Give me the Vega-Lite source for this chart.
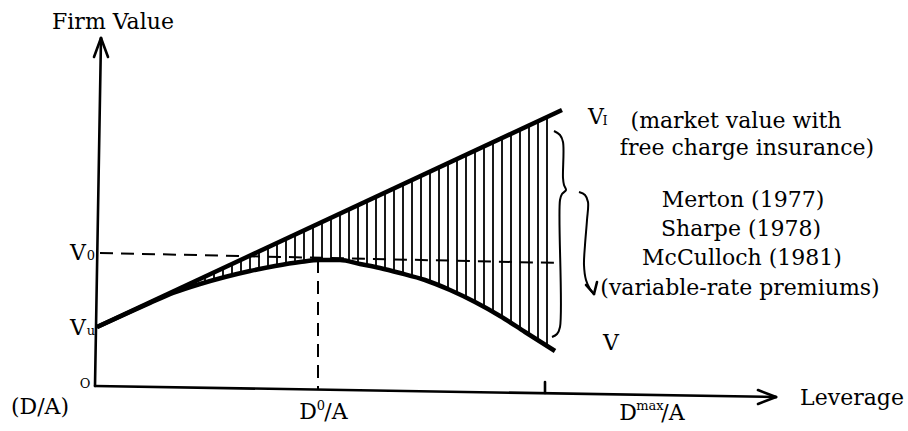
{
  "$schema": "https://vega.github.io/schema/vega-lite/v6.json",
  "width": 680,
  "height": 345,
  "autosize": {"type": "none"},
  "padding": {"left": 95, "top": 40, "right": 133, "bottom": 46},
  "background": "white",
  "config": {"view": {"stroke": null}},
  "datasets": {
    "hatch": [
      {"x": 83, "top": 95.8, "bottom": 94}, {"x": 92, "top": 100.0, "bottom": 97},
      {"x": 101, "top": 104.2, "bottom": 100}, {"x": 110, "top": 108.4, "bottom": 103},
      {"x": 119, "top": 112.6, "bottom": 105.5}, {"x": 128, "top": 116.8, "bottom": 107.5},
      {"x": 137, "top": 121.0, "bottom": 110}, {"x": 146, "top": 125.2, "bottom": 112},
      {"x": 155, "top": 129.4, "bottom": 114}, {"x": 164, "top": 133.6, "bottom": 116},
      {"x": 173, "top": 137.8, "bottom": 118}, {"x": 182, "top": 142.0, "bottom": 119},
      {"x": 191, "top": 146.2, "bottom": 121}, {"x": 200, "top": 150.4, "bottom": 122.5},
      {"x": 209, "top": 154.6, "bottom": 123.5}, {"x": 218, "top": 158.8, "bottom": 124.5},
      {"x": 227, "top": 163.0, "bottom": 125}, {"x": 236, "top": 167.2, "bottom": 125},
      {"x": 245, "top": 171.4, "bottom": 125}, {"x": 254, "top": 175.6, "bottom": 123},
      {"x": 263, "top": 179.8, "bottom": 121.5}, {"x": 272, "top": 184.0, "bottom": 120},
      {"x": 281, "top": 188.2, "bottom": 118}, {"x": 290, "top": 192.4, "bottom": 116},
      {"x": 299, "top": 196.6, "bottom": 113.5}, {"x": 308, "top": 200.8, "bottom": 111},
      {"x": 317, "top": 205.0, "bottom": 109}, {"x": 326, "top": 209.2, "bottom": 106},
      {"x": 335, "top": 213.4, "bottom": 103}, {"x": 344, "top": 217.6, "bottom": 99.5},
      {"x": 353, "top": 221.8, "bottom": 96}, {"x": 362, "top": 226.0, "bottom": 91.5},
      {"x": 371, "top": 230.2, "bottom": 87}, {"x": 380, "top": 234.4, "bottom": 83},
      {"x": 389, "top": 238.6, "bottom": 78}, {"x": 398, "top": 242.8, "bottom": 73},
      {"x": 407, "top": 247.0, "bottom": 68}, {"x": 416, "top": 251.2, "bottom": 62},
      {"x": 425, "top": 255.4, "bottom": 56.5}, {"x": 434, "top": 259.6, "bottom": 51},
      {"x": 443, "top": 263.8, "bottom": 45}, {"x": 452, "top": 268.0, "bottom": 39}
    ],
    "segments": [
      {"x": 0, "y": -1, "x2": 681, "y2": -12},
      {"x": 0, "y": -1, "x2": 6, "y2": 347},
      {"x": 6, "y": 347, "x2": -1, "y2": 328},
      {"x": 6, "y": 347, "x2": 13, "y2": 328},
      {"x": 681, "y": -12, "x2": 663, "y2": -5},
      {"x": 681, "y": -12, "x2": 663, "y2": -19},
      {"x": 450, "y": -8, "x2": 450, "y2": 3},
      {"x": 499, "y": 91, "x2": 491, "y2": 100},
      {"x": 499, "y": 91, "x2": 502, "y2": 103}
    ],
    "dashed": [
      {"x": 5, "y": 132, "x2": 465, "y2": 122},
      {"x": 223, "y": 125, "x2": 223, "y2": -4}
    ],
    "vi": [
      {"x": 2, "y": 58}, {"x": 467, "y": 275}
    ],
    "v": [
      {"x": 2, "y": 58}, {"x": 35, "y": 73}, {"x": 55, "y": 82}, {"x": 78, "y": 92},
      {"x": 105, "y": 101}, {"x": 130, "y": 108}, {"x": 155, "y": 114}, {"x": 180, "y": 119},
      {"x": 205, "y": 123}, {"x": 225, "y": 125}, {"x": 245, "y": 125}, {"x": 265, "y": 121},
      {"x": 285, "y": 117}, {"x": 305, "y": 112}, {"x": 330, "y": 105}, {"x": 355, "y": 95},
      {"x": 380, "y": 83}, {"x": 405, "y": 69}, {"x": 430, "y": 53}, {"x": 460, "y": 34}
    ],
    "brace": [
      {"i": 1, "x": 459, "y": 254}, {"i": 2, "x": 465, "y": 250}, {"i": 3, "x": 468, "y": 243},
      {"i": 4, "x": 468, "y": 207}, {"i": 5, "x": 469, "y": 200}, {"i": 6, "x": 471, "y": 195},
      {"i": 7, "x": 467, "y": 191}, {"i": 8, "x": 465, "y": 185}, {"i": 9, "x": 465, "y": 58},
      {"i": 10, "x": 462, "y": 51}, {"i": 11, "x": 457, "y": 48}
    ],
    "arrow": [
      {"i": 1, "x": 484, "y": 193}, {"i": 2, "x": 490, "y": 190}, {"i": 3, "x": 493, "y": 183},
      {"i": 4, "x": 492, "y": 165}, {"i": 5, "x": 490, "y": 140}, {"i": 6, "x": 489, "y": 120},
      {"i": 7, "x": 491, "y": 105}, {"i": 8, "x": 495, "y": 96}, {"i": 9, "x": 499, "y": 91}
    ],
    "mainText": [
      {"x": 18, "y": 363, "label": "Firm Value"},
      {"x": -55, "y": -22, "label": "(D/A)"},
      {"x": 757, "y": -13, "label": "Leverage"},
      {"x": 641, "y": 264, "label": "(market value with"},
      {"x": 652, "y": 237, "label": "free charge insurance)"},
      {"x": 648, "y": 185, "label": "Merton (1977)"},
      {"x": 646, "y": 156, "label": "Sharpe (1978)"},
      {"x": 647, "y": 127, "label": "McCulloch (1981)"},
      {"x": 645, "y": 97, "label": "(variable-rate premiums)"},
      {"x": 516, "y": 42, "label": "V"},
      {"x": -17, "y": 57, "label": "V"},
      {"x": -17, "y": 132, "label": "V"},
      {"x": 501, "y": 268, "label": "V"},
      {"x": 213, "y": -27, "label": "D"},
      {"x": 241, "y": -27, "label": "/A"},
      {"x": 533, "y": -28, "label": "D"},
      {"x": 578, "y": -28, "label": "/A"}
    ],
    "smallText": [
      {"x": -4, "y": 54, "label": "u"},
      {"x": -4, "y": 129, "label": "0"},
      {"x": 510, "y": 264, "label": "I"},
      {"x": 226, "y": -21, "label": "0"},
      {"x": 555, "y": -21, "label": "max"},
      {"x": -10, "y": 1, "label": "O"}
    ]
  },
  "layer": [
    {
      "data": {"name": "hatch"},
      "mark": {"type": "rule", "color": "black", "strokeWidth": 1.8},
      "encoding": {
        "x": {"field": "x", "type": "quantitative", "scale": {"domain": [0, 680], "nice": false, "zero": false}, "axis": null},
        "y": {"field": "top", "type": "quantitative", "scale": {"domain": [0, 345], "nice": false, "zero": false}, "axis": null},
        "y2": {"field": "bottom"}
      }
    },
    {
      "data": {"name": "segments"},
      "mark": {"type": "rule", "color": "black", "strokeWidth": 2.6, "strokeCap": "round"},
      "encoding": {
        "x": {"field": "x", "type": "quantitative"},
        "y": {"field": "y", "type": "quantitative"},
        "x2": {"field": "x2"},
        "y2": {"field": "y2"}
      }
    },
    {
      "data": {"name": "dashed"},
      "mark": {"type": "rule", "color": "black", "strokeWidth": 2, "strokeDash": [13, 8]},
      "encoding": {
        "x": {"field": "x", "type": "quantitative"},
        "y": {"field": "y", "type": "quantitative"},
        "x2": {"field": "x2"},
        "y2": {"field": "y2"}
      }
    },
    {
      "data": {"name": "vi"},
      "mark": {"type": "line", "color": "black", "strokeWidth": 4.5, "strokeCap": "butt"},
      "encoding": {
        "x": {"field": "x", "type": "quantitative"},
        "y": {"field": "y", "type": "quantitative"}
      }
    },
    {
      "data": {"name": "v"},
      "mark": {"type": "line", "color": "black", "strokeWidth": 4.5, "interpolate": "monotone"},
      "encoding": {
        "x": {"field": "x", "type": "quantitative"},
        "y": {"field": "y", "type": "quantitative"}
      }
    },
    {
      "data": {"name": "brace"},
      "mark": {"type": "line", "color": "black", "strokeWidth": 2, "interpolate": "catmull-rom"},
      "encoding": {
        "x": {"field": "x", "type": "quantitative"},
        "y": {"field": "y", "type": "quantitative"},
        "order": {"field": "i", "type": "quantitative"}
      }
    },
    {
      "data": {"name": "arrow"},
      "mark": {"type": "line", "color": "black", "strokeWidth": 2, "interpolate": "catmull-rom"},
      "encoding": {
        "x": {"field": "x", "type": "quantitative"},
        "y": {"field": "y", "type": "quantitative"},
        "order": {"field": "i", "type": "quantitative"}
      }
    },
    {
      "data": {"name": "mainText"},
      "mark": {"type": "text", "font": "DejaVu Serif", "fontSize": 22, "color": "black", "align": "center", "baseline": "middle"},
      "encoding": {
        "x": {"field": "x", "type": "quantitative"},
        "y": {"field": "y", "type": "quantitative"},
        "text": {"field": "label"}
      }
    },
    {
      "data": {"name": "smallText"},
      "mark": {"type": "text", "font": "DejaVu Serif", "fontSize": 13, "color": "black", "align": "center", "baseline": "middle"},
      "encoding": {
        "x": {"field": "x", "type": "quantitative"},
        "y": {"field": "y", "type": "quantitative"},
        "text": {"field": "label"}
      }
    }
  ]
}
